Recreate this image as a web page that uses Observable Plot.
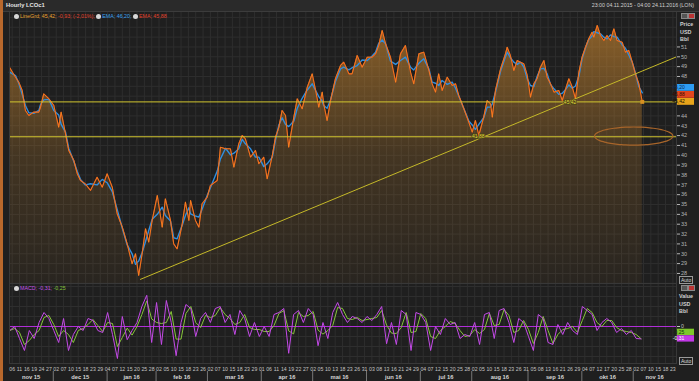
<!DOCTYPE html>
<html><head><meta charset="utf-8">
<script src="https://cdn.jsdelivr.net/npm/d3@7"></script>
<script src="https://cdn.jsdelivr.net/npm/@observablehq/plot@0.6"></script>
<style>
html,body{margin:0;padding:0;background:#1f1f1f;}
#root{position:relative;width:699px;height:381px;overflow:hidden;background:#1f1f1f;font-family:"Liberation Sans",sans-serif;}
.abs{position:absolute;white-space:nowrap;line-height:1;}
.ico{display:inline-block;width:5px;height:5px;border-radius:50%;background:#d8d8d8;margin-right:1px;vertical-align:middle;}
.btn{position:absolute;width:5px;height:4px;border:1px solid #888;background:#555;}
.auto{position:absolute;font-size:5px;color:#ddd;border:1px solid #999;padding:0 1px;line-height:6px;}
</style></head><body><div id="root"></div>
<script>
// ---------- data ----------
const title = "Hourly LCOc1";
const rangeText = "23:00 04.11.2015 - 04:00 24.11.2016 (LON)";
const firstSessionDate = "2015-11-06";
const holidays = ["2015-12-25", "2016-01-01", "2016-03-25"];
const monthNames = ["jan","feb","mar","apr","mai","jun","jul","aug","sep","okt","nov","dec"];

// trading session number (0 = 6 Nov 2015) and price
const priceSessions = [-1.1,1.35,2.7,4.1,5.4,6.8,8.8,10.9,11.6,12.9,15.0,17.0,19.0,20.0,21.8,23.1,25.2,26.6,27.9,29.9,32.0,34.7,36.8,38.8,40.9,42.9,45.0,47.0,49.0,50.4,51.7,53.1,54.5,55.8,57.2,59.3,61.3,62.6,64.7,66.0,67.4,69.5,70.8,72.2,72.9,74.9,76.3,77.6,79.7,81.0,83.8,85.1,87.2,89.2,90.6,92.6,94.0,95.3,97.4,99.4,100.8,102.8,104.2,106.3,107.6,109.0,110.3,111.7,113.0,115.1,116.5,118.5,120.6,122.6,124.0,125.3,126.7,127.3,128.7,130.1,132.1,134.2,135.5,137.6,138.9,141.0,143.0,145.1,147.1,148.5,149.8,151.2,152.6,154.6,156.7,158.7,160.7,162.8,164.1,166.2,168.2,170.3,171.6,173.0,174.3,175.7,177.8,179.8,181.2,182.5,184.6,186.6,188.0,189.3,190.7,192.7,194.1,195.5,196.2,197.5,199.6,201.6,202.3,203.6,205.0,206.4,207.7,209.1,210.5,211.8,213.2,214.5,215.9,217.3,218.6,220.0,221.4,223.4,224.8,226.2,227.5,228.9,230.2,231.6,232.9,234.3,235.6,237.0,237.7,239.1,240.4,241.8,243.1,244.5,245.9,247.2,249.3,250.6,252.0,253.4,254.7,256.1,257.5];
const priceValues = [48.94,47.93,47.42,46.58,44.55,44.04,44.38,44.38,44.9,46.24,45.74,45.06,42.85,44.38,42.18,40.49,39.47,38.12,37.44,37.1,36.43,37.78,36.76,38.12,36.76,34.06,32.7,31.0,28.98,30.0,27.8,30.0,32.54,31.18,33.38,35.92,32.7,35.58,33.38,31.0,30.5,33.05,35.24,33.38,35.41,33.38,32.7,35.08,35.75,36.93,37.44,40.82,40.66,40.66,38.79,41.17,42.01,41.67,39.81,40.49,39.14,39.81,37.61,39.98,41.84,42.85,44.55,44.04,40.82,43.87,45.74,44.72,46.91,48.27,46.58,44.88,46.41,45.23,43.53,45.56,47.77,49.12,49.46,48.27,48.27,50.13,48.94,49.96,49.96,50.3,51.14,52.67,51.32,49.96,47.42,50.3,51.14,48.44,47.26,50.3,50.47,48.61,47.26,46.41,48.27,46.58,47.93,47.09,47.26,46.07,44.72,43.36,42.35,43.53,42.01,43.87,45.56,45.23,43.87,46.58,48.78,50.3,50.97,50.13,48.61,49.62,49.45,49.29,48.1,45.9,47.26,47.77,48.94,49.62,47.93,47.26,46.41,46.58,45.56,46.75,47.77,46.91,45.74,48.44,49.96,50.97,51.82,52.5,51.99,53.18,52.16,51.65,52.16,51.65,52.84,51.65,51.48,50.47,50.64,49.45,48.27,47.26,45.42];

// MACD read every 2 sessions starting at session -1
const macdFirstSession = -1;
const macdSessionStep = 2;
const macdValues = [-0.1,0.0,-0.3,-0.6,-0.1,-0.3,0.1,0.35,0.2,-0.1,
 -0.4,0.2,-0.6,-0.2,0.0,-0.1,0.2,0.15,-0.1,-0.15,
 0.35,-0.2,-0.8,0.25,-0.33,-0.1,0.1,0.5,0.78,-0.4,
 0.6,-0.45,0.65,0.1,-0.73,0.1,0.55,0.45,-0.25,0.2,
 0.35,0.1,0.45,0.5,0.1,0.3,-0.2,0.4,0.2,-0.25,
 0.1,-0.25,0.0,-0.25,0.3,0.35,0.45,-0.67,0.3,0.4,
 0.1,0.45,0.3,-0.48,0.1,-0.3,0.35,0.6,0.3,0.1,
 0.25,0.2,0.1,0.25,0.15,0.3,0.5,-0.43,0.1,-0.45,
 0.4,0.3,-0.6,0.35,0.3,0.1,-0.6,0.0,-0.2,0.2,
 0.05,0.1,-0.3,-0.2,-0.25,0.1,-0.45,0.3,0.35,-0.3,
 0.4,0.45,0.1,-0.4,0.2,0.1,-0.25,-0.6,0.3,0.2,
 -0.4,-0.45,0.05,-0.2,0.1,-0.1,-0.2,0.5,0.4,0.3,
 -0.1,0.1,0.2,0.1,-0.15,-0.05,-0.2,-0.1,-0.3,-0.31];

const priceTicks = [28,29,30,31,32,33,34,35,36,37,38,39,40,41,42,43,44,48,49,50,51]; // 45-47 hidden behind value boxes
const levelLines = [45.42, 41.88];
const touchLabels = [{session: 190.5, price: 41.88, text: "41,88"}, {session: 228, price: 45.42, text: "45,42"}];
const trendLine = [{session: 52.4, price: 27.4}, {session: 271.5, price: 50.0}];
const ellipseCenter = {session: 254, price: 41.95};
const ellipseRadius = {session: 16, price: 0.92};
const last = {price: 45.42, change: -0.93, pct: -2.01, emaBlue: 46.20, emaRed: 45.88, macd: -0.31, signal: -0.25};

// ---------- helpers ----------
const fmt = v => v.toFixed(2).replace(".", ",");
function tradingCalendar(n) {
  const hol = new Set(holidays);
  const out = [];
  const d = new Date(firstSessionDate + "T12:00:00Z");
  while (out.length < n) {
    const dow = d.getUTCDay(), iso = d.toISOString().slice(0, 10);
    if (dow !== 0 && dow !== 6 && !hol.has(iso)) out.push(new Date(d));
    d.setUTCDate(d.getUTCDate() + 1);
  }
  return out;
}
const cal = tradingCalendar(290);
const xDomain = [-1.1, 271.48];
const tickSessions = d3.range(0, 271, 3);
const dayLabel = s => String(cal[s].getUTCDate()).padStart(2, "0");
const monthStarts = [];
for (let s = 1; s < cal.length && s < xDomain[1]; s++)
  if (cal[s].getUTCMonth() !== cal[s - 1].getUTCMonth()) monthStarts.push(s);
const segStarts = [xDomain[0], ...monthStarts];
const monthSegs = segStarts.map((a, i) => {
  const b = i + 1 < segStarts.length ? segStarts[i + 1] : xDomain[1];
  const dt = cal[Math.max(0, Math.ceil(a))];
  return {a, b, label: monthNames[dt.getUTCMonth()] + " " + String(dt.getUTCFullYear()).slice(2)};
});

const priceData = priceSessions.map((s, i) => ({s, v: priceValues[i]}));
const macdData = macdValues.map((v, i) => ({s: macdFirstSession + i * macdSessionStep, v}));
const ellipsePts = d3.range(0, 361, 6).map(a => ({
  s: ellipseCenter.session + ellipseRadius.session * Math.cos(a * Math.PI / 180),
  v: ellipseCenter.price + ellipseRadius.price * Math.sin(a * Math.PI / 180)
}));

const root = document.getElementById("root");
const FONT = "Liberation Sans, sans-serif";
const gridC = "#2e2e2e";

// ---------- price panel ----------
const yDom = [26.98, 54.6];
const pricePlot = Plot.plot({
  width: 699, height: 272, marginLeft: 9, marginRight: 23, marginTop: 0, marginBottom: 0,
  style: {background: "transparent", color: "#b4b4b4", fontSize: "5.5px", fontFamily: FONT},
  x: {domain: xDomain, axis: null},
  y: {domain: yDom, axis: "right", ticks: priceTicks, tickSize: 3, tickPadding: 1.5, tickFormat: d => d, label: null},
  marks: [
    Plot.ruleX(tickSessions, {stroke: gridC, strokeWidth: 1}),
    Plot.ruleY(d3.range(27, 55), {stroke: gridC, strokeWidth: 1}),
    Plot.areaY(priceData, {x: "s", y1: yDom[0], y2: "v", fill: "url(#priceGrad)"}),
    Plot.lineY(priceData, Plot.windowY({k: 3, anchor: "middle"}, {x: "s", y: "v", stroke: "#2f8fe0", strokeWidth: 1.4})),
    Plot.line(priceData, {x: "s", y: "v", stroke: "#e4461c", strokeWidth: 1.1}),
    Plot.line(priceData, {x: "s", y: "v", stroke: "#f59a22", strokeWidth: 0.6}),
    Plot.ruleY(levelLines, {stroke: "#d2c630", strokeWidth: 1}),
    Plot.line(trendLine, {x: "session", y: "price", stroke: "#c4b828", strokeWidth: 1}),
    Plot.line(ellipsePts, {x: "s", y: "v", stroke: "#a8652a", strokeWidth: 1.2, curve: "catmull-rom"}),
    Plot.text(touchLabels, {x: "session", y: "price", text: "text", fill: "#e2d83a", fontSize: 5, stroke: "#4a4418", strokeWidth: 1.5}),
    Plot.dot([priceData[priceData.length - 1]], {x: "s", y: "v", symbol: "square", r: 2.2, fill: "#d89020"}),
    Plot.frame({stroke: "#383838"})
  ]
});
pricePlot.style.position = "absolute"; pricePlot.style.left = "0px"; pricePlot.style.top = "11px";
root.appendChild(pricePlot);
{
  const svg = d3.select(pricePlot);
  const g = svg.insert("defs", ":first-child").append("linearGradient")
    .attr("id", "priceGrad").attr("gradientUnits", "userSpaceOnUse")
    .attr("x1", 0).attr("x2", 0).attr("y1", 15).attr("y2", 272);
  g.append("stop").attr("offset", 0).attr("stop-color", "#d08a30").attr("stop-opacity", 0.6);
  g.append("stop").attr("offset", 0.5).attr("stop-color", "#c8862e").attr("stop-opacity", 0.22);
  g.append("stop").attr("offset", 1).attr("stop-color", "#c0802c").attr("stop-opacity", 0.06);
  const ys = pricePlot.scale("y");
  const y0 = ys.apply(last.price);
  const boxes = [
    {y: y0 - 14, fill: "#2d9cf2", text: fmt(last.emaBlue), tc: "#0c2a50"},
    {y: y0 - 7, fill: "#e2461e", text: fmt(last.emaRed), tc: "#3a0a00"},
    {y: y0, fill: "#e8a41a", text: fmt(last.price), tc: "#201000"}
  ];
  const bg = svg.append("g");
  boxes.forEach(b => {
    bg.append("rect").attr("x", 677).attr("y", b.y - 3.4).attr("width", 17).attr("height", 6.8).attr("fill", b.fill);
    bg.append("text").attr("x", 678.5).attr("y", b.y + 1.8).attr("font-size", 5).attr("font-family", FONT).attr("fill", b.tc).text(b.text);
  });
}

// ---------- MACD panel ----------
const macdPlot = Plot.plot({
  width: 699, height: 98, marginLeft: 9, marginRight: 23, marginTop: 0, marginBottom: 18,
  style: {background: "transparent", color: "#c4c4c4", fontSize: "5.2px", fontFamily: FONT},
  x: {domain: xDomain, axis: "bottom", ticks: tickSessions, tickSize: 0, tickPadding: 4, tickFormat: dayLabel, label: null},
  y: {domain: [-0.925, 1.075], axis: "right", ticks: [0], tickSize: 3, tickPadding: 1.5, tickFormat: () => "0", label: null},
  marks: [
    Plot.ruleX(tickSessions, {stroke: gridC}),
    Plot.ruleY(d3.range(-0.75, 1.01, 0.25), {stroke: gridC}),
    Plot.ruleY([0], {stroke: "#b02ed8", strokeWidth: 1}),
    Plot.lineY(macdData, Plot.windowY({k: 2, anchor: "end"}, {x: "s", y: "v", stroke: "#86c63a", strokeWidth: 1})),
    Plot.line(macdData, {x: "s", y: "v", stroke: "#c44ae8", strokeWidth: 1}),
    Plot.frame({stroke: "#383838"})
  ]
});
macdPlot.style.position = "absolute"; macdPlot.style.left = "0px"; macdPlot.style.top = "283px";
root.appendChild(macdPlot);
{
  const svg = d3.select(macdPlot);
  const xs = macdPlot.scale("x"), ys = macdPlot.scale("y");
  const g = svg.append("g").attr("font-family", FONT);
  monthSegs.forEach((m, i) => {
    if (i > 0) g.append("line").attr("x1", xs.apply(m.a)).attr("x2", xs.apply(m.a)).attr("y1", 88).attr("y2", 98).attr("stroke", "#777");
    g.append("text").attr("x", (xs.apply(m.a) + xs.apply(m.b)) / 2).attr("y", 95.5).attr("text-anchor", "middle")
      .attr("font-size", 5.8).attr("font-weight", "bold").attr("fill", "#d6d6d6").text(m.label);
  });
  const ym = ys.apply(last.macd);
  [{y: ym - 6.5, fill: "#7ec82a", text: fmt(last.signal), tc: "#10300a"},
   {y: ym, fill: "#c238e6", text: fmt(last.macd), tc: "#ffffff"}].forEach(b => {
    g.append("rect").attr("x", 677).attr("y", b.y - 3.2).attr("width", 17).attr("height", 6.4).attr("fill", b.fill);
    g.append("text").attr("x", 678.5).attr("y", b.y + 1.8).attr("font-size", 5).attr("fill", b.tc).text(b.text);
  });
}

// ---------- html chrome ----------
function div(html, style) { const d = document.createElement("div"); d.className = "abs"; d.style.cssText = style; d.innerHTML = html; root.appendChild(d); return d; }
div("", "left:0;top:0;width:699px;height:11px;background:#2a2a2a;border-bottom:1px solid #3c3c3c;");
div("", "left:0;top:0;width:3px;height:381px;background:#b8682c;");
div(title, "left:6px;top:3px;font-size:5.8px;font-weight:bold;color:#e4e4e4;");
div(rangeText, "right:5px;top:3px;font-size:5.3px;color:#d0d0d0;");
div(`<span class="ico"></span><span style="color:#e8a030">LineGrd; ${fmt(last.price)};</span> <span style="color:#e0402a">${fmt(last.change)}; (${fmt(last.pct)}%);</span> <span class="ico"></span><span style="color:#3aa2f2">EMA; ${fmt(last.emaBlue)};</span> <span class="ico"></span><span style="color:#e0402a">EMA; ${fmt(last.emaRed)}</span>`,
  "left:14px;top:14px;font-size:5.3px;");
div(`<span class="ico"></span><span style="color:#c450e8">MACD; ${fmt(last.macd)};</span> <span style="color:#84c43a">${fmt(last.signal)}</span>`,
  "left:14px;top:286px;font-size:5.3px;");
div("Price<br>USD<br>Bbl", "left:680px;top:21px;font-size:5.4px;font-weight:bold;color:#cfcfcf;line-height:7.5px;");
div("Value<br>USD<br>Bbl", "left:679px;top:293px;font-size:5.4px;font-weight:bold;color:#cfcfcf;line-height:7.5px;");
[[681,13],[688,13],[681,285],[688,285]].forEach(([x,y],i)=>{const b=document.createElement("div");b.className="btn";b.style.left=x+"px";b.style.top=y+"px";if(i%2)b.style.background="#b33";root.appendChild(b);});
[[679,276],[679,357]].forEach(([x,y])=>{const b=document.createElement("div");b.className="auto";b.style.left=x+"px";b.style.top=y+"px";b.textContent="Auto";root.appendChild(b);});
</script></body></html>
